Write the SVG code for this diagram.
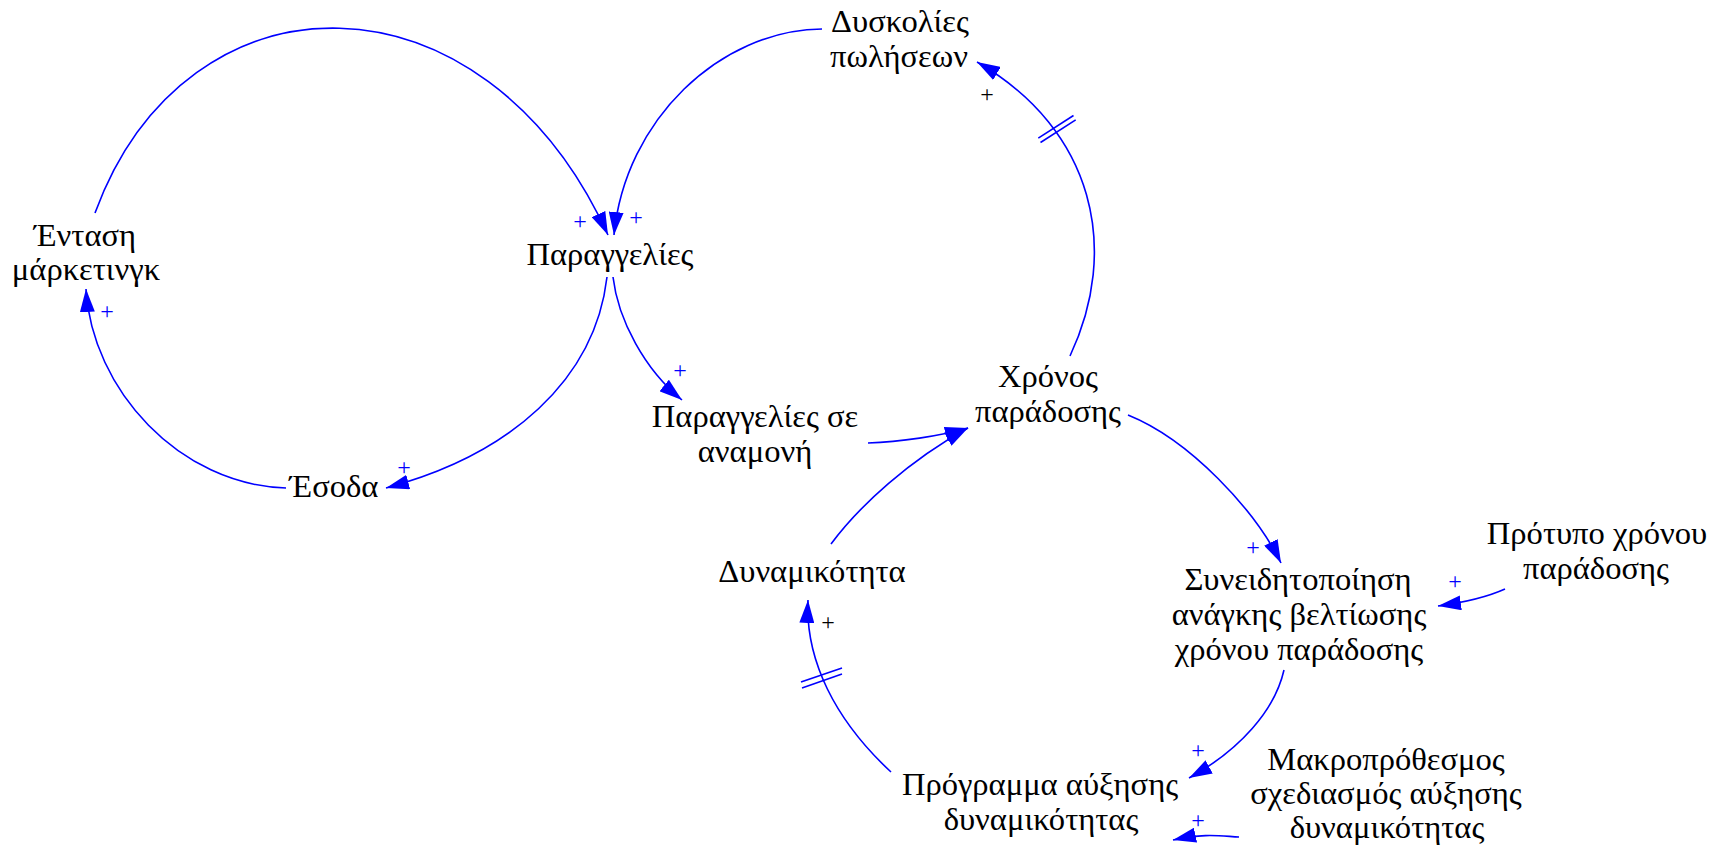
<svg xmlns="http://www.w3.org/2000/svg" width="1726" height="849" viewBox="0 0 1726 849">
<style>
.t{font-family:"Liberation Serif","Times New Roman",serif;font-size:32.6px;fill:#000;text-anchor:middle}
.p{font-family:"Liberation Serif","Times New Roman",serif;font-size:24px;text-anchor:middle}
.pb{fill:#0000FF}
.pk{fill:#000}
.c{fill:none;stroke:#0000FF;stroke-width:1.6}
.h{stroke:#0000FF;stroke-width:1.6}
</style>
<defs>
<marker id="ah" markerUnits="userSpaceOnUse" viewBox="0 0 23 15" markerWidth="23" markerHeight="15" refX="23" refY="7.5" orient="auto">
<path d="M0,0 L23,7.5 L0,15 Z" fill="#0000FF"/>
</marker>
</defs>
<g id="connectors">
<path class="c" marker-end="url(#ah)" d="M95,213 C187,-37 484,-37 608,235"/>
<path class="c" marker-end="url(#ah)" d="M607,277 C595,380 510,455 386,488"/>
<path class="c" marker-end="url(#ah)" d="M286,488 C180,485 92,390 86,289"/>
<path class="c" marker-end="url(#ah)" d="M822,29 C720,30 625,120 614,235"/>
<path class="c" marker-end="url(#ah)" d="M613,277 C618,320 645,370 682,400"/>
<path class="c" marker-end="url(#ah)" d="M868,443 C900,442 940,436 968,428"/>
<path class="c" marker-end="url(#ah)" d="M831,544 C860,505 910,460 968,428"/>
<path class="c" marker-end="url(#ah)" d="M1070,356 C1120,250 1095,130 977,62"/>
<line class="h" x1="1038.3" y1="138.1" x2="1073.5" y2="115.5"/>
<line class="h" x1="1040.5" y1="142.5" x2="1075.7" y2="119.9"/>
<path class="c" marker-end="url(#ah)" d="M1128,415 C1190,440 1255,510 1281,563"/>
<path class="c" marker-end="url(#ah)" d="M1505,589 C1485,598 1460,603 1438,606"/>
<path class="c" marker-end="url(#ah)" d="M1284,670 C1275,710 1240,750 1189,778"/>
<path class="c" marker-end="url(#ah)" d="M1239,837 C1220,836 1205,833 1173,840"/>
<path class="c" marker-end="url(#ah)" d="M891,772 C835,720 805,660 808,600"/>
<line class="h" x1="801" y1="682" x2="842" y2="668"/>
<line class="h" x1="802" y1="688" x2="842" y2="674"/>
</g>
<g id="polarity">
<text class="p pb" x="580" y="229">+</text>
<text class="p pb" x="636" y="225">+</text>
<text class="p pb" x="680" y="378">+</text>
<text class="p pb" x="404" y="475">+</text>
<text class="p pb" x="107" y="319">+</text>
<text class="p pk" x="987" y="102">+</text>
<text class="p pb" x="1253" y="555">+</text>
<text class="p pb" x="1455" y="589">+</text>
<text class="p pb" x="1198" y="758">+</text>
<text class="p pb" x="1198" y="828">+</text>
<text class="p pk" x="828" y="630">+</text>
</g>
<g id="n-dyskolies"><text class="t" x="900" y="32">Δυσκολίες</text><text class="t" x="899" y="67">πωλήσεων</text></g>
<g id="n-entasi"><text class="t" x="85" y="246">Ένταση</text><text class="t" x="86" y="280">μάρκετινγκ</text></g>
<g id="n-paraggelies"><text class="t" x="610" y="265">Παραγγελίες</text></g>
<g id="n-esoda"><text class="t" x="334" y="497">Έσοδα</text></g>
<g id="n-anamoni"><text class="t" x="755" y="427">Παραγγελίες σε</text><text class="t" x="755" y="462">αναμονή</text></g>
<g id="n-xronos"><text class="t" x="1048" y="387">Χρόνος</text><text class="t" x="1048" y="422">παράδοσης</text></g>
<g id="n-dynamikotita"><text class="t" x="812" y="582">Δυναμικότητα</text></g>
<g id="n-syneidit"><text class="t" x="1298" y="590">Συνειδητοποίηση</text><text class="t" x="1299" y="625">ανάγκης βελτίωσης</text><text class="t" x="1299" y="660">χρόνου παράδοσης</text></g>
<g id="n-protypo"><text class="t" x="1597" y="544">Πρότυπο χρόνου</text><text class="t" x="1596" y="579">παράδοσης</text></g>
<g id="n-programma"><text class="t" x="1040" y="795">Πρόγραμμα αύξησης</text><text class="t" x="1041" y="830">δυναμικότητας</text></g>
<g id="n-makro"><text class="t" x="1386" y="770">Μακροπρόθεσμος</text><text class="t" x="1386" y="804">σχεδιασμός αύξησης</text><text class="t" x="1387" y="838">δυναμικότητας</text></g>
</svg>
